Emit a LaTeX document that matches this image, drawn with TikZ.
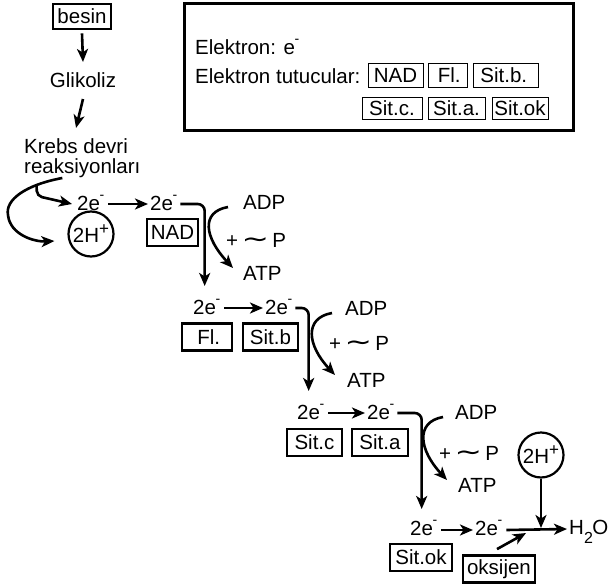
\documentclass[tikz,border=0pt]{standalone}
\usepackage{fontspec}
\usepackage{graphicx}
\setmainfont{Liberation Sans}
\newfontfamily\symfont{DejaVu Sans}
\usetikzlibrary{arrows.meta}
\newcommand\emin{\kern-0.5pt\raisebox{11pt}{\fontsize{14}{14}\selectfont -}}
\newcommand\hplus{\raisebox{8pt}{\fontsize{17}{17}\selectfont +}}
\newcommand\tld{{\symfont\scalebox{1.6}[1.2]{∼}}}
\begin{document}
\begin{tikzpicture}[x=1pt,y=-1pt,
  every node/.style={font=\fontsize{20.5}{21}\selectfont, inner sep=0pt},
  arr/.style={line width=2.6pt, -{Stealth[length=13pt,width=11pt,inset=3.5pt]}},
  box/.style={draw, line width=2.8pt, minimum height=27pt, inner sep=2pt},
  lbox/.style={draw, line width=0.9pt, inner sep=1pt},
  txt/.style={anchor=base west},
  hcirc/.style={draw, circle, line width=2.2pt, minimum size=45pt, inner sep=0pt},
]
\useasboundingbox (0,0) rectangle (610,586);

% top chain
\node[draw, line width=2.8pt, minimum width=58pt, minimum height=25pt] (besin) at (82,16.5) {besin};
\node[anchor=base] (glik) at (83,87) {Glikoliz};
\node[txt] (krebs1) at (24,153) {Krebs devri};
\node[txt] (krebs2) at (24,173) {reaksiyonları};
\draw[arr] ([yshift=-3pt]besin.south) -- ([yshift=10pt]glik.north);
\draw[arr] ([yshift=-12pt]glik.base) -- ([yshift=10pt]krebs1.north);

% legend
\node[draw, line width=3.2pt, minimum width=389pt, minimum height=127pt] (legend) at (379,67) {};
\node[txt] (el) at (195,55) {Elektron: e\emin};
\node[txt] (et) at (195,84) {Elektron tutucular:};
\node[lbox, minimum width=55pt, minimum height=24pt] (lnad) at (395.5,75) {NAD};
\node[lbox, minimum width=39pt, minimum height=24pt] (lfl) at (447.5,75) {\,Fl.};
\node[lbox, minimum width=65pt, minimum height=24pt] (lsb) at (505.5,75) {Sit.b.\,};
\node[lbox, minimum width=60pt, minimum height=22pt] (lsc) at (392,108) {Sit.c.};
\node[lbox, minimum width=57pt, minimum height=22pt] (lsa) at (456.5,108) {Sit.a.};
\node[lbox, minimum width=56pt, minimum height=22pt] (lso) at (520,108) {Sit.ok};

% stage 1
\node[txt] (a1) at (77,210) {2e\emin};
\node[txt] (b1) at (150,210) {2e\emin};
\node[hcirc] (hc1) at (91,234) {2H\hplus};
\node[box, minimum width=51pt] (nad) at (172.5,232.5) {NAD};
\node[txt] (adp1) at (243,209) {ADP};
\node[txt] (p1) at (226,247) {+\,\tld\,P};
\node[txt] (atp1) at (243,280) {ATP};

% stage 2
\node[txt] (a2) at (193,314) {2e\emin};
\node[txt] (b2) at (265,314) {2e\emin};
\node[box, minimum width=50pt] (fl) at (207,337) {\,Fl.};
\node[box, minimum width=55pt] (sb) at (270.5,337) {Sit.b};
\node[txt] (adp2) at (345,315) {ADP};
\node[txt] (p2) at (329,350) {+\,\tld\,P};
\node[txt] (atp2) at (347,387) {ATP};

% stage 3
\node[txt] (a3) at (297,419) {2e\emin};
\node[txt] (b3) at (367,419) {2e\emin};
\node[box, minimum width=55pt] (sc) at (314.5,442.5) {Sit.c};
\node[box, minimum width=56pt] (sa) at (380,442.5) {Sit.a};
\node[txt] (adp3) at (455,419) {ADP};
\node[txt] (p3) at (439,460) {+\,\tld\,P};
\node[txt] (atp3) at (458,492) {ATP};

% stage 4
\node[txt] (a4) at (410,535) {2e\emin};
\node[txt] (b4) at (475,535) {2e\emin};
\node[box, minimum width=62pt] (so) at (421,557.5) {Sit.ok};
\node[box, minimum width=72pt] (oks) at (499,569) {oksijen};
\node[hcirc] (hc2) at (541,455) {2H\hplus};
\node[txt] (h2o) at (569,534) {H\raisebox{-9pt}{\fontsize{16}{16}\selectfont 2}\kern-0.5pt O};
\coordinate (ojoin) at (526,533);

% Krebs curves
\coordinate (kstart) at ([xshift=-20pt,yshift=-5pt]krebs2.base);
\coordinate (kbranch) at (36.5,184.5);
\draw[arr] (kstart) .. controls (25,185) and (5,200) .. (8,215)
  .. controls (10,235) and (35,242) .. ([shift={(-13pt,-7pt)}]hc1.west);
\draw[arr, rounded corners=5pt] (kbranch) -- (37,196) -- ([shift={(-5pt,6pt)}]a1.base west);

% electron arrows
\draw[arr] ([shift={(4pt,6pt)}]a1.base east) -- ([shift={(-2pt,6pt)}]b1.base west);
\draw[arr] ([shift={(4pt,6pt)}]a2.base east) -- ([shift={(-2pt,6pt)}]b2.base west);
\draw[arr] ([shift={(4pt,6pt)}]a3.base east) -- ([shift={(-2pt,6pt)}]b3.base west);
\draw[arr] ([shift={(4pt,5pt)}]a4.base east) -- ([shift={(-2pt,5pt)}]b4.base west);

\draw[arr, rounded corners=7pt] ([shift={(3pt,6pt)}]b1.base east) -| ([shift={(-2pt,28pt)}]a2.base);
\draw[arr, rounded corners=7pt] ([shift={(3pt,6pt)}]b2.base east) -| ([shift={(-2pt,28pt)}]a3.base);
\draw[arr, rounded corners=7pt] ([shift={(3pt,6pt)}]b3.base east) -| ([shift={(-2pt,26pt)}]a4.base);

\draw[arr] ([shift={(4pt,5pt)}]b4.base east) -- ([shift={(-2pt,5pt)}]h2o.base west);
\draw[arr] (hc2.south) -- ([yshift=7pt]hc2.south |- b4.base);
\draw[arr] ([shift={(-2pt,5pt)}]oks.north) -- (ojoin);

% ADP -> ATP curves
\draw[arr] ([shift={(-15pt,2pt)}]adp1.base west) .. controls +(-28,5) and +(-28,-30) .. ([shift={(-10pt,12pt)}]atp1.base west);
\draw[arr] ([shift={(-13pt,2pt)}]adp2.base west) .. controls +(-28,5) and +(-28,-30) .. ([shift={(-12pt,12pt)}]atp2.base west);
\draw[arr] ([shift={(-12pt,2pt)}]adp3.base west) .. controls +(-28,5) and +(-28,-30) .. ([shift={(-11pt,12pt)}]atp3.base west);
\end{tikzpicture}
\end{document}
